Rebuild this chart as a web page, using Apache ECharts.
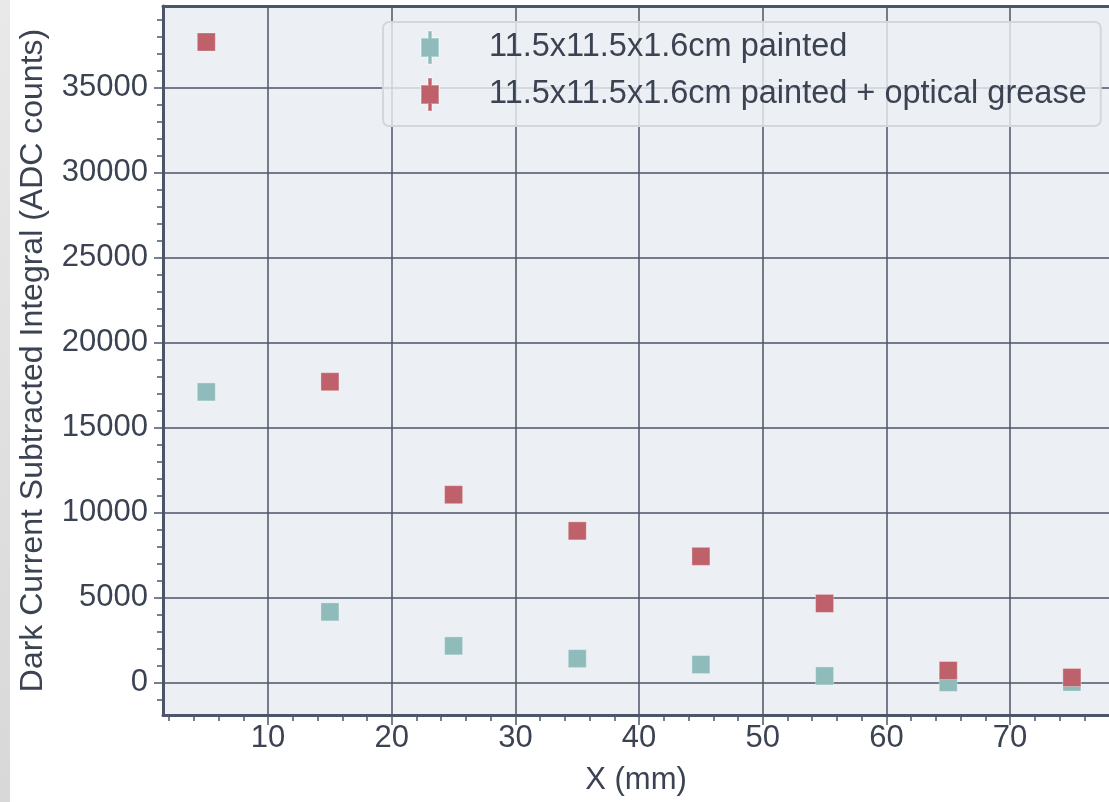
<!DOCTYPE html>
<html>
<head>
<meta charset="utf-8">
<script src="https://cdn.jsdelivr.net/npm/echarts@6/dist/echarts.min.js"></script>
<style>
html,body{margin:0;padding:0;background:#ffffff;}
#chart{width:1109px;height:802px;}
</style>
</head>
<body>
<div id="chart"></div>
<script>
// ---- data ----
const xPositions = [5, 15, 25, 35, 45, 55, 65, 75];
const paintedValues = [17100, 4150, 2150, 1400, 1050, 380, 0, 20];
const greaseValues = [37700, 17700, 11050, 8920, 7420, 4650, 700, 290];
const seriesNames = ['11.5x11.5x1.6cm painted', '11.5x11.5x1.6cm painted + optical grease'];
const xMajorTicks = [10, 20, 30, 40, 50, 60, 70];
const xMinorTicks = [2, 4, 6, 8, 12, 14, 16, 18, 22, 24, 26, 28, 32, 34, 36, 38, 42, 44, 46, 48, 52, 54, 56, 58, 62, 64, 66, 68, 72, 74, 76];
const yMajorTicks = [0, 5000, 10000, 15000, 20000, 25000, 30000, 35000];
const yMinorTicks = [-1000, 1000, 2000, 3000, 4000, 6000, 7000, 8000, 9000, 11000, 12000, 13000, 14000, 16000, 17000, 18000, 19000, 21000, 22000, 23000, 24000, 26000, 27000, 28000, 29000, 31000, 32000, 33000, 34000, 36000, 37000, 38000, 39000];
const xTitle = 'X (mm)';
const yTitle = 'Dark Current Subtracted Integral (ADC counts)';

const X_MIN = 1.5, X_MAX = 78, Y_MIN = -1920, Y_MAX = 39820;
const FONT = 'Liberation Sans, Arial, Helvetica, sans-serif';
const TEXT = '#3b4252';
const LINE = '#4c566a';
const COLORS = ['#8fbcbb', '#bf616a'];
const ICON = 'path://M7,0H11V7H18V26H11V33H7V26H0V7H7Z';

const chart = echarts.init(document.getElementById('chart'), null, {renderer: 'canvas'});
const fmt = v => String(v);

chart.setOption({
  animation: false,
  backgroundColor: '#ffffff',
  graphic: [{
    type: 'rect', left: 0, top: 0, z: -10,
    shape: {x: 0, y: 0, width: 10, height: 802},
    style: {fill: new echarts.graphic.LinearGradient(0, 0, 0, 1, [
      {offset: 0, color: '#e9e9e9'}, {offset: 1, color: '#d8d8d8'}
    ])}
  }],
  grid: {
    left: 163, right: 0, top: 6, bottom: 87,
    show: true, backgroundColor: '#eceff4', borderWidth: 0
  },
  legend: {
    orient: 'vertical',
    left: 383, top: 22,
    padding: [8, 14, 14, 37],
    itemWidth: 18, itemHeight: 33, itemGap: 12,
    backgroundColor: 'rgba(236,239,244,0.8)',
    borderColor: '#d3d6dc', borderWidth: 2, borderRadius: 6,
    textStyle: {fontSize: 32.5, color: TEXT, fontFamily: FONT, padding: [0, 0, 0, 45]},
    data: [
      {name: seriesNames[0], icon: ICON},
      {name: seriesNames[1], icon: ICON}
    ]
  },
  xAxis: [
    {
      type: 'value', min: X_MIN, max: X_MAX, position: 'bottom', splitNumber: 8,
      name: xTitle, nameLocation: 'middle', nameGap: 50,
      nameTextStyle: {fontSize: 31, color: TEXT, fontFamily: FONT},
      axisLine: {show: true, onZero: false, lineStyle: {color: LINE, width: 3}},
      axisTick: {show: true, customValues: xMajorTicks, length: 10, lineStyle: {color: LINE, width: 1.5}},
      axisLabel: {customValues: xMajorTicks, formatter: fmt, fontSize: 31, color: TEXT, fontFamily: FONT, margin: 8},
      splitLine: {show: true, lineStyle: {color: LINE, width: 1.5}}
    },
    {
      type: 'value', min: X_MIN, max: X_MAX, position: 'bottom',
      axisLine: {show: false, onZero: false},
      axisTick: {show: true, customValues: xMinorTicks, length: 6, lineStyle: {color: LINE, width: 1.5}},
      axisLabel: {show: false},
      splitLine: {show: false}
    },
    {
      type: 'value', min: X_MIN, max: X_MAX, position: 'top',
      axisLine: {show: true, onZero: false, lineStyle: {color: LINE, width: 3}},
      axisTick: {show: false}, axisLabel: {show: false}, splitLine: {show: false}
    }
  ],
  yAxis: [
    {
      type: 'value', min: Y_MIN, max: Y_MAX, position: 'left', splitNumber: 8,
      name: yTitle, nameLocation: 'middle', nameGap: 114, nameRotate: 90,
      nameTextStyle: {fontSize: 32, color: TEXT, fontFamily: FONT},
      axisLine: {show: true, onZero: false, lineStyle: {color: LINE, width: 3}},
      axisTick: {show: true, customValues: yMajorTicks, length: 9, lineStyle: {color: LINE, width: 1.5}},
      axisLabel: {customValues: yMajorTicks, formatter: fmt, fontSize: 31, color: TEXT, fontFamily: FONT, margin: 15, padding: [4, 0, 0, 0]},
      splitLine: {show: true, lineStyle: {color: LINE, width: 1.5}}
    },
    {
      type: 'value', min: Y_MIN, max: Y_MAX, position: 'left',
      axisLine: {show: false, onZero: false},
      axisTick: {show: true, customValues: yMinorTicks, length: 6, lineStyle: {color: LINE, width: 1.5}},
      axisLabel: {show: false},
      splitLine: {show: false}
    }
  ],
  series: [
    {
      name: seriesNames[0], type: 'scatter', symbol: 'rect', symbolSize: 18,
      itemStyle: {color: COLORS[0], opacity: 1, borderColor: 'rgba(255,255,255,0.3)', borderWidth: 1},
      data: xPositions.map((x, i) => [x, paintedValues[i]])
    },
    {
      name: seriesNames[1], type: 'scatter', symbol: 'rect', symbolSize: 18,
      itemStyle: {color: COLORS[1], opacity: 1, borderColor: 'rgba(255,255,255,0.3)', borderWidth: 1},
      data: xPositions.map((x, i) => [x, greaseValues[i]])
    }
  ]
});
</script>
</body>
</html>
